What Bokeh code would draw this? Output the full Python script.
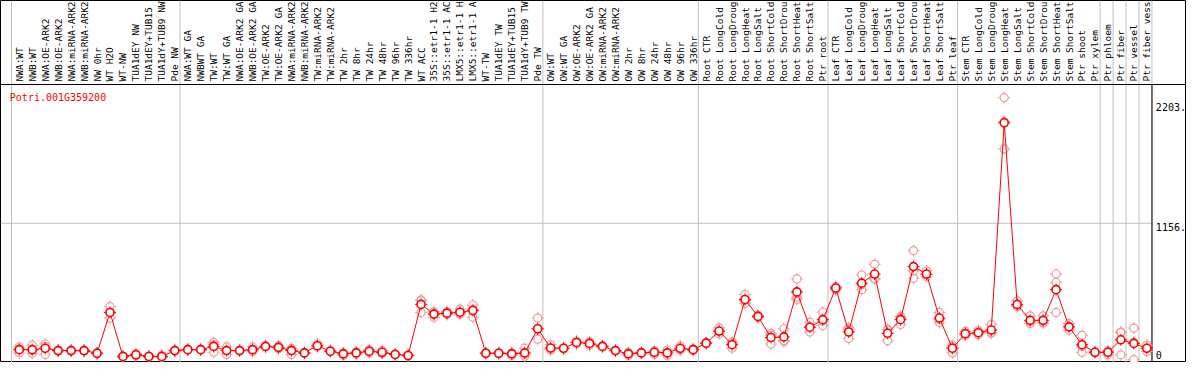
from bokeh.plotting import figure
from bokeh.models import Range1d, Span, Label, ColumnDataSource
from bokeh.core.properties import value
from bokeh.embed import file_html
from bokeh.resources import INLINE
import math

gene_id = "Potri.001G359200"

categories = [
    "NWA:WT", "NWB:WT", "NWA:OE-ARK2", "NWB:OE-ARK2", "NWA:miRNA-ARK2", "NWB:miRNA-ARK2",
    "NW 0hr", "WT H2O", "WT-NW", "TUA1dEY NW", "TUA1dEY+TUB15", "TUA1dY+TUB9 NW", "Pde NW",
    "NWA:WT GA", "NWBWT GA", "TW:WT", "TW:WT GA", "NWA:OE-ARK2 GA", "NWB:OE-ARK2 GA",
    "TW:OE-ARK2", "TW:OE-ARK2 GA", "NWA:miRNA-ARK2", "NWB:miRNA-ARK2", "TW:miRNA-ARK2",
    "TW:miRNA-ARK2", "TW 2hr", "TW 8hr", "TW 24hr", "TW 48hr", "TW 96hr", "TW 336hr",
    "WT ACC", "35S::etr1-1 H2", "35S::etr1-1 AC", "LMX5::etr1-1 H", "LMX5::etr1-1 A",
    "WT-TW", "TUA1dEY TW", "TUA1dEY+TUB15", "TUA1dY+TUB9 TW", "Pde TW",
    "OW:WT", "OW:WT GA", "OW:OE-ARK2", "OW:OE-ARK2 GA", "OW:miRNA-ARK2", "OW:miRNA-ARK2",
    "OW 2hr", "OW 8hr", "OW 24hr", "OW 48hr", "OW 96hr", "OW 336hr",
    "Root CTR", "Root LongCold", "Root LongDroug", "Root LongHeat", "Root LongSalt",
    "Root ShortCold", "Root ShortDrou", "Root ShortHeat", "Root ShortSalt", "Ptr root",
    "Leaf CTR", "Leaf LongCold", "Leaf LongDroug", "Leaf LongHeat", "Leaf LongSalt",
    "Leaf ShortCold", "Leaf ShortDrou", "Leaf ShortHeat", "Leaf ShortSalt", "Ptr leaf",
    "Stem CTR", "Stem LongCold", "Stem LongDroug", "Stem LongHeat", "Stem LongSalt",
    "Stem ShortCold", "Stem ShortDrou", "Stem ShortHeat", "Stem ShortSalt", "Ptr shoot",
    "Ptr xylem", "Ptr phloem", "Ptr fiber", "Ptr vessel", "Ptr fiber vess",
]

mean_vals = [
    103, 103, 114, 95, 95, 95, 73, 413, 46, 60, 46, 46, 95,
    103, 103, 130, 95, 95, 103, 130, 122, 95, 76, 136, 90, 68, 76, 90, 81, 63, 54,
    480, 399, 407, 415, 429, 73, 73, 68, 76, 277,
    117, 114, 163, 155, 130, 95, 68, 76, 81, 76, 114, 103,
    157, 258, 144, 521, 380, 204, 209, 584, 290, 353,
    616, 250, 657, 733, 239, 353, 795, 733, 366, 114,
    236, 244, 266, 1993, 480, 347, 347, 603, 293, 144, 81,
    81, 185, 155, 114,
]

rep1 = [
    125, 140, 150, 100, 100, 98, 78, 461, 50, 70, 50, 58, 98,
    106, 106, 163, 126, 98, 125, 135, 136, 110, 80, 150, 95, 75, 85, 103, 95, 66, 57,
    516, 420, 420, 440, 475, 76, 76, 72, 115, 366,
    145, 118, 175, 170, 135, 98, 80, 80, 85, 100, 135, 110,
    162, 285, 150, 562, 390, 239, 277, 692, 331, 415,
    630, 285, 725, 814, 270, 380, 928, 760, 413, 140,
    255, 262, 312, 2203, 510, 385, 385, 733, 320, 222, 84,
    90, 250, 283, 141,
]

rep2 = [
    75, 73, 62, 90, 90, 92, 68, 366, 42, 52, 42, 40, 92,
    100, 100, 81, 62, 92, 88, 125, 110, 62, 72, 125, 85, 55, 66, 78, 70, 60, 51,
    413, 372, 395, 398, 372, 70, 70, 55, 48, 190,
    100, 110, 150, 140, 125, 92, 55, 72, 65, 55, 100, 96,
    152, 235, 115, 489, 370, 149, 171, 521, 250, 304,
    600, 195, 603, 692, 177, 312, 698, 710, 330, 76,
    220, 228, 240, 1775, 460, 320, 325, 413, 265, 81, 78,
    60, 60, 19, 87,
]

rep3 = [
    109, 96, 130, 95, 95, 95, 73, 412, 46, 58, 46, 40, 95,
    103, 103, 146, 97, 95, 96, 130, 120, 113, 76, 133, 90, 74, 77, 89, 78, 63, 54,
    511, 405, 406, 407, 440, 73, 73, 77, 65, 275,
    106, 114, 164, 155, 130, 95, 69, 76, 93, 73, 107, 103,
    157, 254, 167, 512, 380, 224, 179, 539, 289, 340,
    618, 270, 643, 693, 270, 367, 759, 729, 355, 126,
    233, 242, 246, 2001, 470, 336, 331, 663, 294, 129, 81,
    93, 245, 163, 114,
]

group_edges = [0, 13, 41, 53, 63, 73, 84, 85, 86, 87, 88]
axis_ticks = [0, 1156, 2203]
axis_tick_labels = ["0", "1156.", "2203."]
y_top = 2312

# styling of the value labels (baseline, pixel offset)
tick_label_style = [("bottom", -3), ("top", 0), ("top", 5)]

MONO = "DejaVu Sans Mono"
RED = "#ff0000"
PINK = "#f09a9a"
GRID = "#c0c0c0"

n = len(categories)
xs = [i + 0.6 for i in range(n)]

W, H = 1186, 362
X0, X1 = -0.849, 90.664
Y0, Y1 = -4.17, 3011.9
p = figure(width=W, height=H, output_backend="svg", toolbar_location=None,
           x_range=Range1d(X0, X1), y_range=Range1d(Y0, Y1),
           min_border=0, x_axis_location=None, y_axis_location=None)
p.xgrid.visible = False
p.ygrid.visible = False
p.outline_line_color = "black"
p.outline_line_width = 1
p.background_fill_color = "white"
p.border_fill_color = "white"

# group separators
for e in group_edges:
    p.add_layout(Span(location=e, dimension="height", line_color=GRID,
                      line_width=1, level="underlay"))
# right border of data area
p.segment(x0=[n], y0=[Y0], x1=[n], y1=[y_top], line_color="black", line_width=1)
# top separator between labels and plot
p.add_layout(Span(location=y_top, dimension="width", line_color="black", line_width=1))
# mid gridline
p.segment(x0=[X0], y0=[axis_ticks[1]], x1=[n], y1=[axis_ticks[1]],
          line_color=GRID, line_width=1, level="underlay")

# category labels
p.text(x=xs, y=[y_top] * n, text=categories, angle=math.pi / 2,
       text_align="left", text_baseline="middle", y_offset=-3,
       text_font=value(MONO), text_font_size="9.5px", text_color="black")

# right value labels
for tv, tl, (bl, off) in zip(axis_ticks, axis_tick_labels, tick_label_style):
    p.text(x=[n + 0.3], y=[tv], text=[tl], text_align="left",
           text_baseline=bl, y_offset=off,
           text_font=value(MONO), text_font_size="10px", text_color="black")

# replicates
rx = xs * 3
ry = rep1 + rep2 + rep3
rsrc = ColumnDataSource(dict(x=rx, y=ry))
p.scatter("x", "y", source=rsrc, marker="cross", size=12, line_color=PINK, line_width=1)
p.scatter("x", "y", source=rsrc, marker="circle", size=8, fill_color="white",
          line_color=None)
p.scatter("x", "y", source=rsrc, marker="circle", size=8, fill_color=None,
          line_color=PINK, line_width=1.2)

# mean line and markers
msrc = ColumnDataSource(dict(x=xs, y=mean_vals))
p.line("x", "y", source=msrc, line_color=RED, line_width=1)
p.scatter("x", "y", source=msrc, marker="cross", size=12, line_color=RED, line_width=1)
p.scatter("x", "y", source=msrc, marker="circle", size=8, fill_color="white",
          line_color=RED, line_width=1.6)

p.add_layout(Label(x=-0.13, y=2204, text=gene_id, text_color=RED,
                   text_font=MONO, text_font_size="10px", text_baseline="middle"))

open("out.html", "w").write(file_html(p, INLINE))
